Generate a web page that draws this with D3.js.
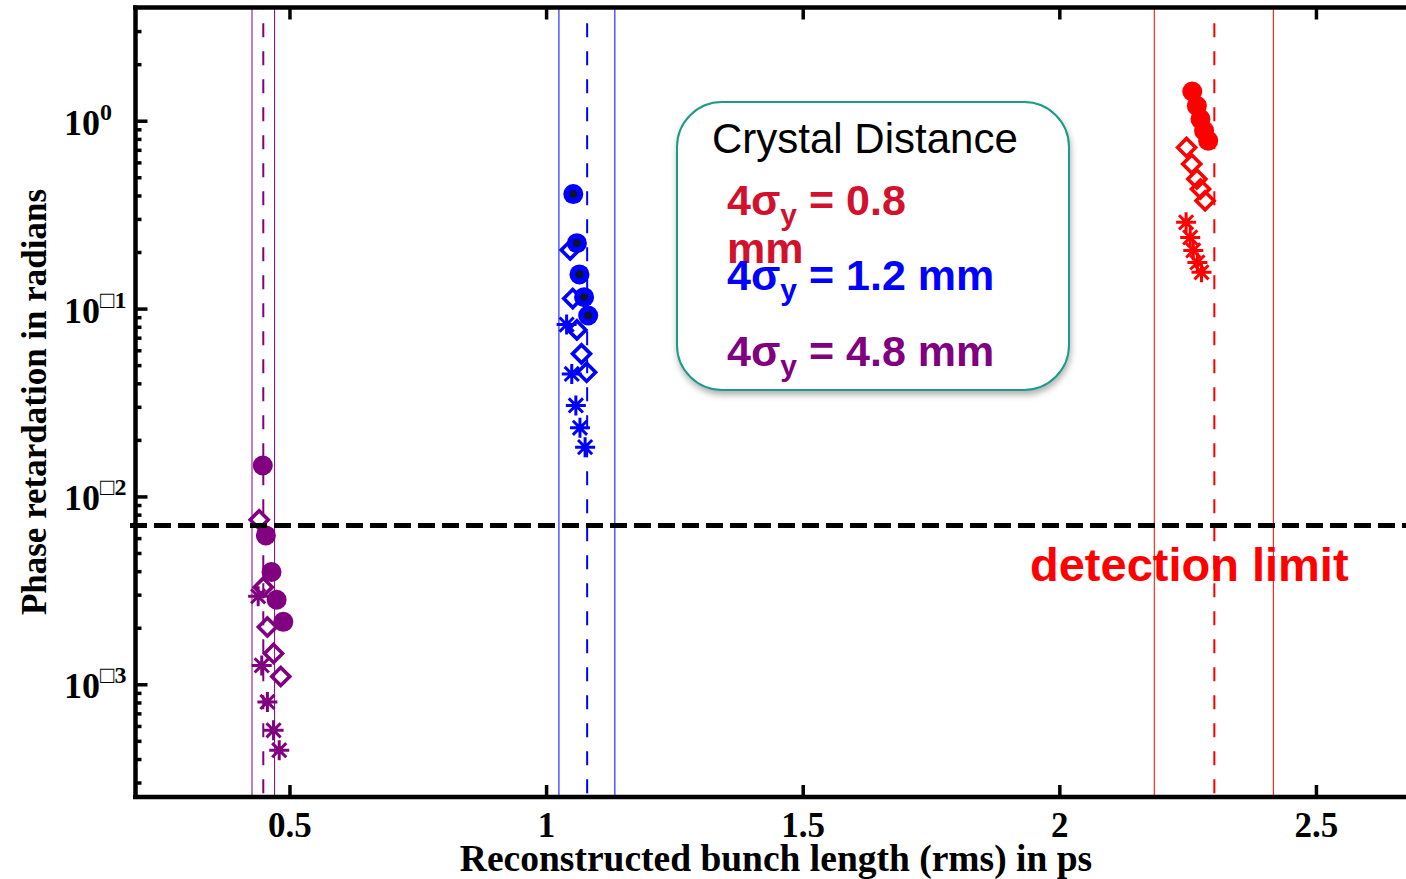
<!DOCTYPE html>
<html>
<head>
<meta charset="utf-8">
<script src="https://cdn.jsdelivr.net/npm/d3@7"></script>
<style>
  body { margin: 0; background: #fff; }
  svg { display: block; }
</style>
</head>
<body>
<div id="chart"></div>
<script>
// values: [bunch length (ps), phase retardation (rad)]
var redCircle = [[2.259, 1.43], [2.268, 1.20], [2.275, 1.02], [2.282, 0.885], [2.290, 0.783]];
var redDiamond = [[2.248, 0.721], [2.258, 0.588], [2.268, 0.490], [2.275, 0.433], [2.284, 0.375]];
var redStar = [[2.247, 0.288], [2.255, 0.239], [2.261, 0.204], [2.269, 0.176], [2.277, 0.156]];

var blueCircle = [[1.053, 0.407], [1.060, 0.223], [1.065, 0.152], [1.074, 0.115], [1.082, 0.0918]];
var blueDiamond = [[1.047, 0.205], [1.052, 0.113], [1.060, 0.077], [1.069, 0.0574], [1.079, 0.0458]];
var blueStar = [[1.040, 0.0822], [1.050, 0.0449], [1.058, 0.0305], [1.066, 0.0232], [1.076, 0.0183]];

var purpleCircle = [[0.448, 0.0146], [0.454, 0.0062], [0.465, 0.00396], [0.475, 0.00282], [0.488, 0.00215]];
var purpleDiamond = [[0.441, 0.00752], [0.449, 0.00329], [0.457, 0.00202], [0.469, 0.00146], [0.483, 0.00110]];
var purpleStar = [[0.439, 0.00294], [0.446, 0.00126], [0.457, 0.000805], [0.469, 0.000569], [0.480, 0.000446]];

// mean bunch length (dashed) and its band (thin solid lines), purple / blue / red
var meanLen = [0.449, 1.080, 2.302];
var lowLen = [0.427, 1.025, 2.185];
var highLen = [0.471, 1.134, 2.417];

var detectionLimit = 0.007;

var xTicks = [0.5, 1, 1.5, 2, 2.5];
var yMajor = [1, 0.1, 0.01, 0.001];
var yExp = ['0', '\u25A11', '\u25A12', '\u25A13'];

var W = 1406, H = 879;
var colors = { red: '#ff0000', blue: '#0000ff', purple: '#800080' };

var x = d3.scaleLinear().domain([0.2, 2.7]).range([135.5, 1418.6]);
var y = d3.scaleLog().domain([Math.pow(10, -3.6), Math.pow(10, 0.6)]).range([797, 8]);

var svg = d3.select('#chart').append('svg')
  .attr('width', W)
  .attr('height', H);

var defs = svg.append('defs');
defs.append('filter').attr('id', 'blur')
  .attr('x', '-5%').attr('y', '-200%').attr('width', '110%').attr('height', '500%')
  .append('feGaussianBlur').attr('stdDeviation', 2);
defs.append('filter').attr('id', 'boxShadow')
  .attr('x', '-10%').attr('y', '-10%').attr('width', '120%').attr('height', '125%')
  .append('feDropShadow')
  .attr('dx', 1).attr('dy', 4).attr('stdDeviation', 3)
  .attr('flood-color', '#000').attr('flood-opacity', 0.3);

// vertical bunch length lines
var lineColors = [colors.purple, colors.blue, colors.red];
var vlines = svg.append('g');
meanLen.forEach(function (m, i) {
  [lowLen[i], highLen[i]].forEach(function (v) {
    vlines.append('line')
      .attr('x1', x(v)).attr('x2', x(v))
      .attr('y1', 8).attr('y2', 797)
      .attr('stroke', lineColors[i]).attr('stroke-width', 1);
  });
  vlines.append('line')
    .attr('x1', x(m)).attr('x2', x(m))
    .attr('y1', 8).attr('y2', 797)
    .attr('stroke', lineColors[i]).attr('stroke-width', 2)
    .attr('stroke-dasharray', '14,14')
    .attr('stroke-dashoffset', 12.7);
});

// markers
var starPath = function (r) {
  var p = '';
  for (var k = 0; k < 4; k++) {
    var a = k * Math.PI / 4;
    var dx = r * Math.cos(a), dy = r * Math.sin(a);
    p += 'M' + (-dx) + ',' + (-dy) + 'L' + dx + ',' + dy;
  }
  return p;
};
var diamondPath = function (r) {
  return 'M0,' + (-r) + 'L' + r + ',0L0,' + r + 'L' + (-r) + ',0Z';
};

var series = [
  { data: purpleStar, color: colors.purple, shape: 'star' },
  { data: purpleDiamond, color: colors.purple, shape: 'diamond' },
  { data: purpleCircle, color: colors.purple, shape: 'circle' },
  { data: blueStar, color: colors.blue, shape: 'star' },
  { data: blueDiamond, color: colors.blue, shape: 'diamond' },
  { data: blueCircle, color: colors.blue, shape: 'circle', dot: true },
  { data: redStar, color: colors.red, shape: 'star' },
  { data: redDiamond, color: colors.red, shape: 'diamond' },
  { data: redCircle, color: colors.red, shape: 'circle' }
];

var marks = svg.append('g');
series.forEach(function (s) {
  var g = marks.append('g');
  var pts = g.selectAll('g').data(s.data).enter().append('g')
    .attr('transform', d => 'translate(' + x(d[0]) + ',' + y(d[1]) + ')');
  if (s.shape === 'circle') {
    pts.append('circle').attr('r', 10).attr('fill', s.color);
    if (s.dot) pts.append('circle').attr('r', 3.8).attr('fill', '#0a1526');
  } else if (s.shape === 'diamond') {
    pts.append('path').attr('d', diamondPath(9))
      .attr('fill', 'none').attr('stroke', s.color).attr('stroke-width', 3.6)
      .attr('stroke-linejoin', 'miter');
  } else {
    pts.append('path').attr('d', starPath(10))
      .attr('fill', 'none').attr('stroke', s.color).attr('stroke-width', 3);
  }
});

// detection limit line with its shadow
var yl = y(detectionLimit);
svg.append('line')
  .attr('x1', 130).attr('x2', W).attr('y1', yl + 4).attr('y2', yl + 4)
  .attr('stroke', '#000').attr('stroke-opacity', 0.35).attr('stroke-width', 5)
  .attr('filter', 'url(#blur)');
svg.append('line')
  .attr('x1', 130).attr('x2', W).attr('y1', yl).attr('y2', yl)
  .attr('stroke', '#000').attr('stroke-width', 5)
  .attr('stroke-dasharray', '17,7');

svg.append('text')
  .attr('x', 1030).attr('y', 581)
  .attr('font-family', 'Liberation Sans, Arial, sans-serif')
  .attr('font-weight', 'bold').attr('font-size', 47)
  .attr('fill', '#ff0000')
  .text('detection limit');

// axes
var serif = 'Liberation Serif, Times New Roman, serif';

var minors = [];
for (var e = -4; e <= 0; e++) {
  for (var k = 2; k <= 9; k++) {
    var v = k * Math.pow(10, e);
    if (v >= y.domain()[0] && v <= y.domain()[1]) minors.push(v);
  }
}

var axisStyle = function (g) {
  g.select('.domain').remove();
  g.selectAll('.tick line').attr('stroke', '#000').attr('stroke-width', 3.5);
};

svg.append('g').attr('transform', 'translate(135.5,0)')
  .call(d3.axisLeft(y).tickValues(minors).tickSizeInner(-6).tickSizeOuter(0).tickFormat(''))
  .call(axisStyle);
svg.append('g').attr('transform', 'translate(135.5,0)')
  .call(d3.axisLeft(y).tickValues(yMajor).tickSizeInner(-12).tickSizeOuter(0).tickFormat(''))
  .call(axisStyle);

svg.append('g').attr('transform', 'translate(0,797)')
  .call(d3.axisBottom(x).tickValues(xTicks).tickSizeInner(-12).tickSizeOuter(0)
    .tickPadding(15).tickFormat(d3.format('')))
  .call(axisStyle)
  .call(g => g.selectAll('.tick text')
    .attr('font-family', serif).attr('font-weight', 'bold')
    .attr('font-size', 35).attr('fill', '#000'));

svg.append('g').attr('transform', 'translate(0,7.5)')
  .call(d3.axisTop(x).tickValues(xTicks).tickSizeInner(-12).tickSizeOuter(0).tickFormat(''))
  .call(axisStyle);

// y tick labels 10^n
var ylab = svg.append('g')
  .attr('font-family', serif).attr('font-weight', 'bold').attr('fill', '#000');
yMajor.forEach(function (v, i) {
  var t = ylab.append('text').attr('x', 64).attr('y', y(v) + 14).attr('font-size', 36);
  t.append('tspan').text('10');
  t.append('tspan').attr('dy', -15).attr('font-size', 24).text(yExp[i]);
});

// spines
svg.append('g').attr('stroke', '#000').attr('stroke-width', 4.5)
  .call(g => {
    g.append('line').attr('x1', 135.5).attr('x2', 135.5).attr('y1', 5.5).attr('y2', 799);
    g.append('line').attr('x1', 133).attr('x2', W).attr('y1', 7.5).attr('y2', 7.5);
    g.append('line').attr('x1', 133).attr('x2', W).attr('y1', 797).attr('y2', 797);
  });

// axis titles
svg.append('text')
  .attr('x', 776).attr('y', 871)
  .attr('text-anchor', 'middle')
  .attr('font-family', serif).attr('font-weight', 'bold').attr('font-size', 37.5)
  .text('Reconstructed bunch length (rms) in ps');

svg.append('text')
  .attr('transform', 'translate(46,402) rotate(-90)')
  .attr('text-anchor', 'middle')
  .attr('font-family', serif).attr('font-weight', 'bold').attr('font-size', 35)
  .text('Phase retardation in radians');

// legend box
var lg = svg.append('g').attr('font-family', 'Liberation Sans, Arial, sans-serif');
lg.append('rect')
  .attr('x', 677).attr('y', 102).attr('width', 392).attr('height', 288)
  .attr('rx', 45).attr('ry', 45)
  .attr('fill', '#fff').attr('stroke', '#1f9a8a').attr('stroke-width', 2)
  .attr('filter', 'url(#boxShadow)');

lg.append('text').attr('x', 712).attr('y', 153)
  .attr('font-size', 42).attr('fill', '#000')
  .text('Crystal Distance');

var sigmaLine = function (yy, color, rest) {
  var t = lg.append('text').attr('x', 727).attr('y', yy)
    .attr('font-size', 43).attr('font-weight', 'bold').attr('fill', color);
  t.append('tspan').text('4\u03C3');
  t.append('tspan').attr('dy', 10).attr('font-size', 30).text('y');
  t.append('tspan').attr('dy', -10).text(rest);
  return t;
};
sigmaLine(215, '#d2112c', ' = 0.8');
lg.append('text').attr('x', 727).attr('y', 263)
  .attr('font-size', 43).attr('font-weight', 'bold').attr('fill', '#d2112c')
  .text('mm');
sigmaLine(290, '#0000ff', ' = 1.2 mm');
sigmaLine(366, '#800080', ' = 4.8 mm');
</script>
</body>
</html>
